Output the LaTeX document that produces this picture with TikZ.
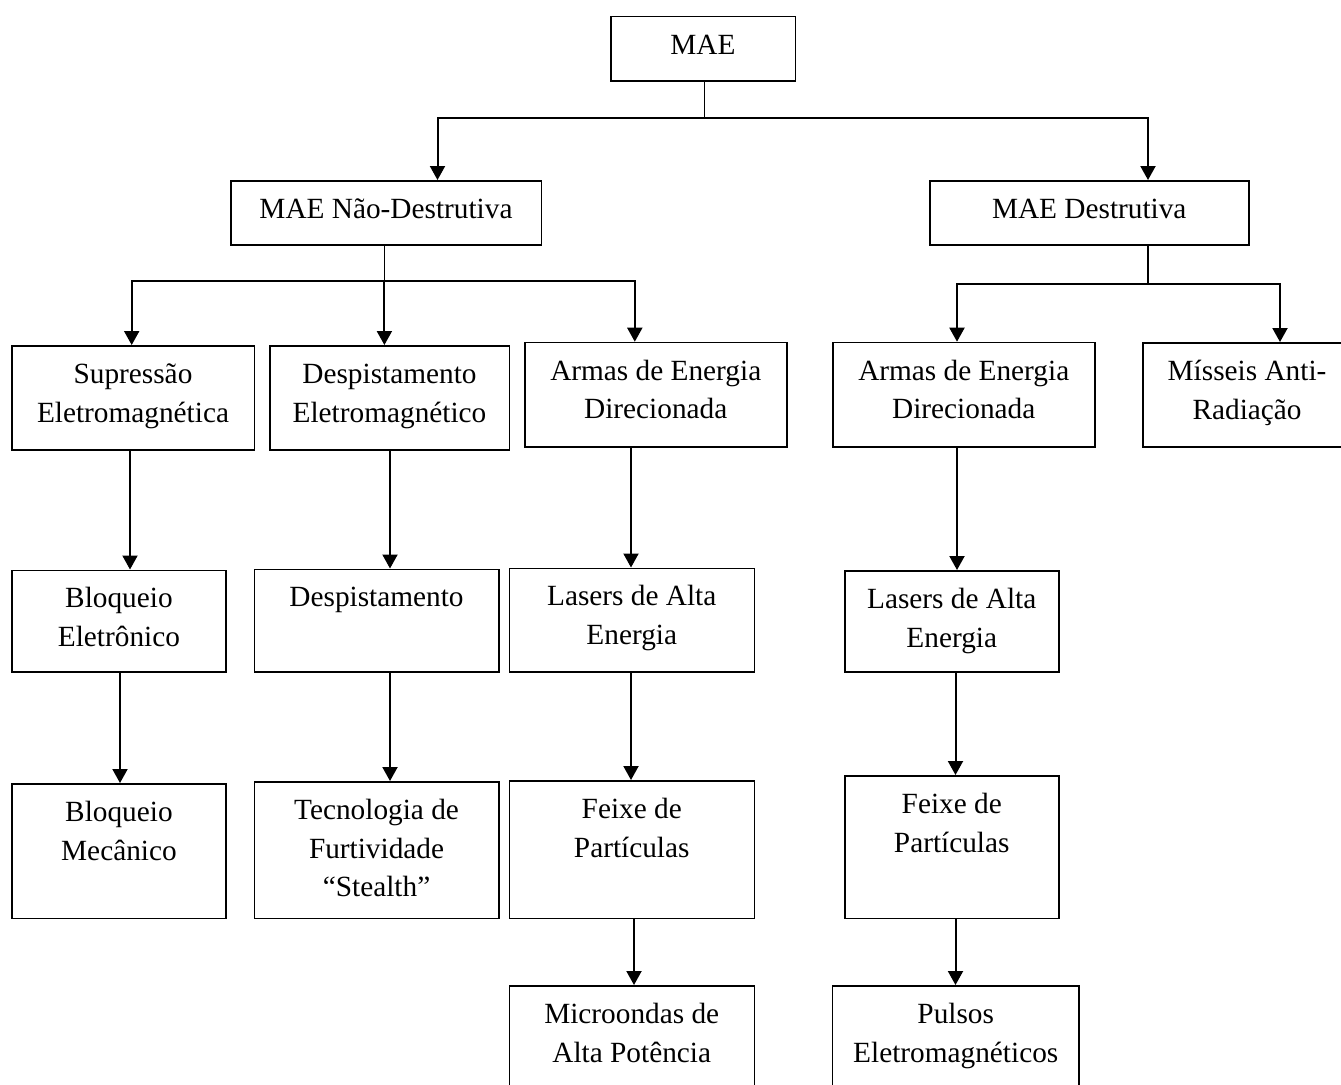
\documentclass[tikz,border=0pt]{standalone}
\usepackage{fontspec}
\setmainfont{Liberation Serif}
\usetikzlibrary{arrows.meta}
\tikzset{
  caixa/.style={draw, line width=0.75pt, anchor=north west, inner sep=0pt},
  texto/.style={anchor=north, inner sep=0pt, yshift=-5.45pt, align=center,
    font=\fontsize{14.65}{19.35}\selectfont},
  fio/.style={line width=0.6pt},
  seta/.style={line width=1pt, -{Triangle[width=7.5pt,length=7pt]}},
  setas/.style={line width=1pt, {Triangle[width=7.5pt,length=7pt]}-{Triangle[width=7.5pt,length=7pt]}}
}
\begin{document}
\begin{tikzpicture}[x=0.5pt,y=-0.5pt]
\useasboundingbox (0,0) rectangle (1341,1084);
\clip (0,0) rectangle (1341,1084);
% level 0 and 1
\node [caixa, minimum width=92.25pt, minimum height=32.15pt] (mae) at (610,15.7) {};
\node [texto] (mae-t) at (mae.north) {\strut MAE};
\node [caixa, minimum width=155.25pt, minimum height=32.15pt] (nd) at (230,180) {};
\node [texto] (nd-t) at (nd.north) {\strut MAE Não-Destrutiva};
\node [caixa, minimum width=159.5pt, minimum height=32.15pt] (dst) at (929,180) {};
\node [texto] (dst-t) at (dst.north) {\strut MAE Destrutiva};
% level 2
\node [caixa, minimum width=121.25pt, minimum height=52pt] (sup) at (11,345) {};
\node [texto] (sup-t) at (sup.north) {\strut Supressão\\Eletromagnética};
\node [caixa, minimum width=119.75pt, minimum height=52pt] (dele) at (269,345) {};
\node [texto] (dele-t) at (dele.north) {\strut Despistamento\\Eletromagnético};
\node [caixa, minimum width=131pt, minimum height=52.15pt] (aed1) at (524,341.7) {};
\node [texto] (aed1-t) at (aed1.north) {\strut Armas de Energia\\Direcionada};
\node [caixa, minimum width=131pt, minimum height=52.15pt] (aed2) at (832,341.7) {};
\node [texto] (aed2-t) at (aed2.north) {\strut Armas de Energia\\Direcionada};
\node [caixa, minimum width=104pt, minimum height=52pt] (mis) at (1142.3,342) {};
\node [texto] (mis-t) at (mis.north) {\strut Mísseis Anti-\\Radiação};
% level 3
\node [caixa, minimum width=107.2pt, minimum height=50.75pt] (ble) at (11,569.5) {};
\node [texto] (ble-t) at (ble.north) {\strut Bloqueio\\Eletrônico};
\node [caixa, minimum width=122.2pt, minimum height=51.25pt] (desp) at (253.6,568.5) {};
\node [texto] (desp-t) at (desp.north) {\strut Despistamento};
\node [caixa, minimum width=122.5pt, minimum height=51.75pt] (las1) at (508.5,567.5) {};
\node [texto] (las1-t) at (las1.north) {\strut Lasers de Alta\\Energia};
\node [caixa, minimum width=107pt, minimum height=50.5pt] (las2) at (844,570) {};
\node [texto] (las2-t) at (las2.north) {\strut Lasers de Alta\\Energia};
% level 4
\node [caixa, minimum width=107.2pt, minimum height=67.4pt] (blm) at (11,783) {};
\node [texto] (blm-t) at (blm.north) {\strut Bloqueio\\Mecânico};
\node [caixa, minimum width=122.2pt, minimum height=68.4pt] (tec) at (253.6,781) {};
\node [texto] (tec-t) at (tec.north) {\strut Tecnologia de\\Furtividade\\“Stealth”};
\node [caixa, minimum width=122.5pt, minimum height=68.9pt] (fx1) at (508.5,780) {};
\node [texto] (fx1-t) at (fx1.north) {\strut Feixe de\\Partículas};
\node [caixa, minimum width=107pt, minimum height=71.4pt] (fx2) at (844,775) {};
\node [texto] (fx2-t) at (fx2.north) {\strut Feixe de\\Partículas};
% level 5
\node [caixa, minimum width=122.5pt, minimum height=75pt] (mic) at (508.5,985) {};
\node [texto] (mic-t) at (mic.north) {\strut Microondas de\\Alta Potência};
\node [caixa, minimum width=123.2pt, minimum height=75pt] (pul) at (831.8,985) {};
\node [texto] (pul-t) at (pul.north) {\strut Pulsos\\Eletromagnéticos};
% junctions and columns
\coordinate (b1) at (704.7,117.7);
\coordinate (b1l) at (437.5,117.7);
\coordinate (b1r) at (1148,117.7);
\coordinate (b2) at (384.4,280.5);
\coordinate (b2l) at (131.7,280.5);
\coordinate (b2r) at (634.8,280.5);
\coordinate (b3) at (1148,283.7);
\coordinate (b3l) at (957,283.7);
\coordinate (b3r) at (1280,283.7);
\coordinate (c1) at (130,0);
\coordinate (c2) at (120,0);
\coordinate (c3) at (390,0);
\coordinate (c4) at (631,0);
\coordinate (c5) at (634,0);
\coordinate (c6) at (957,0);
\coordinate (c7) at (955.5,0);
% connectors
\draw [fio] (b1 |- mae.south) -- (b1);
\draw [setas] (b1l |- nd.north) -- (b1l) -- (b1r) -- (b1r |- dst.north);
\draw [fio] (b2 |- nd.south) -- (b2);
\draw [setas] (b2l |- sup.north) -- (b2l) -- (b2r) -- (b2r |- aed1.north);
\draw [seta] (b2) -- (b2 |- dele.north);
\draw [fio] (b3 |- dst.south) -- (b3);
\draw [setas] (b3l |- aed2.north) -- (b3l) -- (b3r) -- (b3r |- mis.north);
\draw [seta] (c1 |- sup.south) -- (c1 |- ble.north);
\draw [seta] (c2 |- ble.south) -- (c2 |- blm.north);
\draw [seta] (c3 |- dele.south) -- (c3 |- desp.north);
\draw [seta] (c3 |- desp.south) -- (c3 |- tec.north);
\draw [seta] (c4 |- aed1.south) -- (c4 |- las1.north);
\draw [seta] (c4 |- las1.south) -- (c4 |- fx1.north);
\draw [seta] (c5 |- fx1.south) -- (c5 |- mic.north);
\draw [seta] (c6 |- aed2.south) -- (c6 |- las2.north);
\draw [seta] (c7 |- las2.south) -- (c7 |- fx2.north);
\draw [seta] (c7 |- fx2.south) -- (c7 |- pul.north);
\end{tikzpicture}
\end{document}
